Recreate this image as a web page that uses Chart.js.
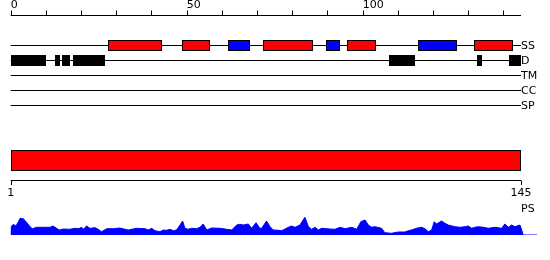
<!DOCTYPE html>
<html>
<head>
<meta charset="utf-8">
<script src="https://cdn.jsdelivr.net/npm/chart.js@4/dist/chart.umd.min.js"></script>
<style>
  html, body { margin: 0; padding: 0; background: #fff; }
  canvas { display: block; }
</style>
</head>
<body>
<canvas id="seq" width="550" height="260"></canvas>
<script>
// sequence length and ruler ticks
const seqLength = 145;
const rulerTicks = [0, 10, 20, 30, 40, 50, 60, 70, 80, 90, 100, 110, 120, 130, 140];
const rulerLabels = ["0", "50", "100"];
const rulerLabelAt = [0, 50, 100];
const trackNames = ["SS", "D", "TM", "CC", "SP"];

// secondary structure: helix (red) and strand (blue), as [start, end]
const helixSegments = [[27.7, 42.9], [48.7, 56.7], [71.8, 85.8], [95.6, 103.7], [131.7, 142.6]];
const strandSegments = [[61.8, 67.9], [89.6, 93.7], [115.8, 126.7]];
// disorder segments (black)
const disorderSegments = [[0, 10], [12.6, 14], [14.6, 16.8], [17.7, 26.7], [107.5, 114.8], [132.5, 134], [141.6, 145]];
// domain bar
const domainSegments = [[0, 145]];
const domainEnds = ["1", "145"];

// PS profile
const psX = [0, 0.1, 0.75, 1.5, 2.2, 2.65, 3.6, 4.35, 5.5, 6.15, 7.4, 11.2, 11.9, 12.6, 13.8, 14.95, 16.85, 18.3, 19.2, 20.2,
  20.6, 21.6, 22.5, 23.95, 24.9, 25.8, 27.3, 29.2, 31.05, 32.5, 33.4, 35.8, 38.15, 39.1, 40.05, 41.0, 42.4, 43.4, 44.3, 45.25,
  46.2, 47.15, 48.1, 48.85, 49.5, 50.45, 51.4, 52.8, 53.8, 54.7, 55.7, 57.1, 59.5, 61.4, 62.8, 64.2, 65.1, 66.1, 67.5, 68.5,
  69.7, 70.8, 71.3, 72.7, 73.7, 74.6, 75.1, 77.0, 78.9, 79.8, 80.8, 82.2, 83.6, 84.6, 85.5, 86.5, 87.4, 88.35, 90.7, 92.1,
  93.6, 95.0, 96.9, 98.3, 99.5, 100.7, 101.6, 102.55, 103.5, 105.4, 106.3, 108.2, 110.1, 112.0, 113.0, 113.9, 115.3, 116.75, 117.7, 118.65,
  119.6, 120.35, 121.0, 122.4, 123.4, 124.3, 126.2, 127.65, 129.1, 130.0, 131.0, 131.9, 132.85, 134.3, 135.7, 137.6, 139.5, 140.4, 141.4, 142.3,
  143.3, 144.7, 145.2, 145.6, 149.6];
const psY = [0, 8.3, 10.7, 9, 13.3, 16.7, 16.3, 13.3, 8.3, 6.3, 7.7, 7.7, 9, 7.7, 5, 6, 5.7, 6.7, 6.3, 7.7,
  5.7, 9, 6.7, 7.3, 5.7, 3.3, 6.3, 6.3, 7, 5.7, 5, 6.7, 6.3, 5, 6.7, 4.3, 3.3, 5, 4.7, 5.7,
  4.3, 5, 10, 14, 6.7, 5.7, 6.7, 6.3, 7.7, 11, 5, 7, 6.7, 5.7, 5, 10, 10.7, 10, 11, 6.7,
  12.3, 6.7, 6.7, 14, 8.3, 5, 5, 4.3, 7.7, 9, 7.7, 10, 17.7, 8.3, 5.7, 7.7, 5, 6.7, 6, 5.7,
  7.7, 6.3, 7.7, 5.7, 13.3, 15, 10, 7.7, 8.3, 6.7, 2.3, 1.7, 3, 3, 4.3, 5, 6.7, 7.7, 6.3, 3.3,
  5, 13.3, 11, 14, 11.7, 10, 8.3, 7.7, 8.3, 9, 6.7, 7.7, 8.3, 7.7, 6.7, 7.7, 6.7, 11, 7.7, 10,
  8.3, 10, 5, 0, 0];

const FONT = '11px "DejaVu Sans", sans-serif';

const tracksPlugin = {
  id: "tracks",
  afterDatasetsDraw(chart) {
    const ctx = chart.ctx;
    const x = (v) => chart.scales.x.getPixelForValue(v);
    const x0 = x(0), xEnd = x(seqLength);
    ctx.save();
    ctx.lineWidth = 1;
    ctx.strokeStyle = "#000";
    ctx.fillStyle = "#000";
    ctx.font = FONT;

    // top ruler
    ctx.beginPath();
    ctx.moveTo(x0, 15.5);
    ctx.lineTo(xEnd, 15.5);
    rulerTicks.forEach((t) => {
      const px = Math.round(x(t)) + 0.5;
      ctx.moveTo(px, 15.5);
      ctx.lineTo(px, 10.5);
    });
    ctx.stroke();
    ctx.textAlign = "left";
    ctx.textBaseline = "top";
    rulerLabels.forEach((lab, i) => ctx.fillText(lab, x(rulerLabelAt[i]), 0));

    // track lines and names
    const rowY = [45, 60, 75, 90, 105];
    trackNames.forEach((name, i) => {
      ctx.beginPath();
      ctx.moveTo(x0, rowY[i] + 0.5);
      ctx.lineTo(xEnd, rowY[i] + 0.5);
      ctx.stroke();
      ctx.textBaseline = "middle";
      ctx.fillText(name, xEnd, rowY[i] + 1);
    });

    const box = (segs, y, h, fill, stroke) => {
      segs.forEach(([a, b]) => {
        const l = Math.round(x(a)), r = Math.round(x(b));
        ctx.fillStyle = fill;
        ctx.fillRect(l, y, r - l, h);
        if (stroke) {
          ctx.strokeStyle = stroke;
          ctx.strokeRect(l + 0.5, y + 0.5, r - l - 1, h - 1);
        }
      });
    };
    box(helixSegments, 40, 11, "#ff0000", "#000");
    box(strandSegments, 40, 11, "#0000ff", "#000");
    box(disorderSegments, 55, 11, "#000", null);

    // domain bar
    box(domainSegments, 150, 21, "#ff0000", "#000");

    // bottom ruler
    ctx.strokeStyle = "#000";
    ctx.beginPath();
    ctx.moveTo(x0, 180.5);
    ctx.lineTo(xEnd, 180.5);
    [0, seqLength].forEach((t) => {
      const px = Math.round(x(t)) + 0.5;
      ctx.moveTo(px, 180.5);
      ctx.lineTo(px, 185);
    });
    ctx.stroke();
    ctx.fillStyle = "#000";
    ctx.textAlign = "center";
    ctx.textBaseline = "top";
    ctx.fillText(domainEnds[0], x(0), 188);
    ctx.fillText(domainEnds[1], x(seqLength), 188);
    ctx.textAlign = "left";
    ctx.fillText("PS", xEnd, 204);
    ctx.restore();
  },
};

new Chart(document.getElementById("seq"), {
  type: "line",
  data: {
    datasets: [
      {
        label: "PS",
        data: psX.map((v, i) => ({ x: v, y: psY[i] })),
        borderColor: "#0000ff",
        backgroundColor: "#0000ff",
        borderWidth: 1,
        fill: "origin",
        tension: 0,
        pointRadius: 0,
      },
    ],
  },
  options: {
    responsive: false,
    animation: false,
    layout: { padding: { left: 10.7, right: 11.4, top: 199, bottom: 25 } },
    plugins: { legend: { display: false }, tooltip: { enabled: false } },
    scales: {
      x: { type: "linear", min: 0, max: 150, display: false },
      y: { min: 0, max: 36, display: false },
    },
  },
  plugins: [tracksPlugin],
});
</script>
</body>
</html>
